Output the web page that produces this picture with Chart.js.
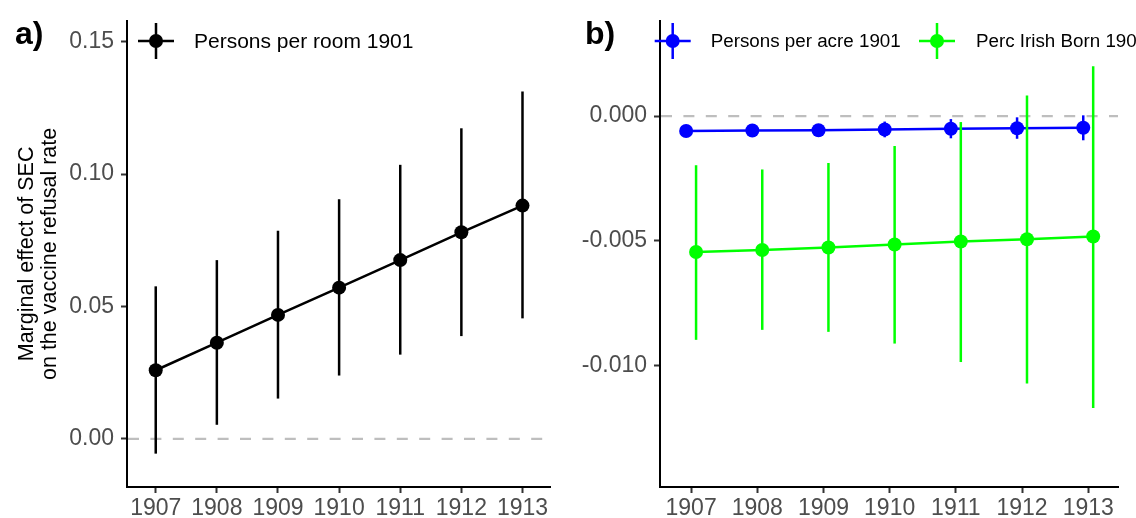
<!DOCTYPE html>
<html>
<head>
<meta charset="utf-8">
<script src="https://cdn.jsdelivr.net/npm/chart.js@4.4.1/dist/chart.umd.min.js"></script>
<style>
  html, body { margin: 0; padding: 0; background: #fff; }
  .wrap { position: relative; width: 1136px; height: 518px; overflow: hidden; }
  canvas { position: absolute; top: 0; }
  #panelA { left: 0; }
  #panelB { left: 570px; }
</style>
</head>
<body>
<div class="wrap">
  <canvas id="panelA" width="570" height="518"></canvas>
  <canvas id="panelB" width="566" height="518"></canvas>
</div>
<script>
// year of the marginal effect
const years = [1907, 1908, 1909, 1910, 1911, 1912, 1913];

// a) persons per room
const roomEffect = [0.0259, 0.0363, 0.0468, 0.0571, 0.0675, 0.0780, 0.0881];
const roomLow = [-0.0056, 0.0053, 0.0152, 0.0239, 0.0318, 0.0388, 0.0455];
const roomHigh = [0.0576, 0.0675, 0.0786, 0.0905, 0.1035, 0.1173, 0.1312];

// b) persons per acre
const acreEffect = [-0.00060, -0.00058, -0.00057, -0.00054, -0.00051, -0.00049, -0.00047];
const acreLow = [-0.00082, -0.00081, -0.00081, -0.00085, -0.00089, -0.00091, -0.00097];
const acreHigh = [-0.00038, -0.00035, -0.00033, -0.00022, -0.00012, -0.00005, 0.00003];

// b) percent irish born
const irishEffect = [-0.00545, -0.00537, -0.00527, -0.00515, -0.00503, -0.00494, -0.00483];
const irishLow = [-0.00897, -0.00857, -0.00865, -0.00912, -0.00986, -0.01072, -0.01170];
const irishHigh = [-0.00197, -0.00214, -0.00188, -0.00120, -0.00024, 0.00083, 0.00200];

const ticksA = [0, 0.05, 0.10, 0.15];
const ticksB = [-0.010, -0.005, 0];

const FONT = '"Liberation Sans", Arial, Helvetica, sans-serif';
const DODGE = 0.075;

const toPoints = (vals, shift = 0) => years.map((yr, i) => ({ x: yr + shift, y: vals[i] }));

const zeroLine = {
  id: 'zeroLine',
  beforeDatasetsDraw(chart) {
    const { ctx, chartArea, scales: { y } } = chart;
    const py = y.getPixelForValue(0);
    ctx.save();
    ctx.setLineDash([11, 11.4]);
    ctx.strokeStyle = '#BEBEBE';
    ctx.lineWidth = 2.2;
    ctx.beginPath();
    ctx.moveTo(chartArea.left + 1, py);
    ctx.lineTo(chartArea.right, py);
    ctx.stroke();
    ctx.restore();
  },
};

// vertical ranges drawn under each dataset's own line and points
const errorBars = {
  id: 'errorBars',
  beforeDatasetDraw(chart, args) {
    const ds = chart.data.datasets[args.index];
    if (!ds.errLow) return;
    const { ctx, scales: { x, y } } = chart;
    ctx.save();
    ctx.strokeStyle = ds.borderColor;
    ctx.lineWidth = 2.5;
    ds.data.forEach((p, i) => {
      const px = x.getPixelForValue(p.x);
      ctx.beginPath();
      ctx.moveTo(px, y.getPixelForValue(ds.errLow[i]));
      ctx.lineTo(px, y.getPixelForValue(ds.errHigh[i]));
      ctx.stroke();
    });
    ctx.restore();
  },
};

const keyLegend = {
  id: 'keyLegend',
  afterDraw(chart, args, opts) {
    const { ctx } = chart;
    ctx.save();
    ctx.fillStyle = '#000';
    ctx.font = 'bold 32px ' + FONT;
    ctx.textBaseline = 'alphabetic';
    ctx.fillText(opts.tag, 15, 44);

    opts.items.forEach((it) => {
      ctx.strokeStyle = it.color;
      ctx.fillStyle = it.color;
      ctx.lineWidth = 2.5;
      ctx.beginPath();
      ctx.moveTo(it.x - 18, 41);
      ctx.lineTo(it.x + 18, 41);
      ctx.moveTo(it.x, 23);
      ctx.lineTo(it.x, 59);
      ctx.stroke();
      ctx.beginPath();
      ctx.arc(it.x, 41, 7, 0, Math.PI * 2);
      ctx.fill();
      ctx.fillStyle = '#000';
      ctx.font = it.size + 'px ' + FONT;
      ctx.textBaseline = 'middle';
      ctx.fillText(it.label, it.textX, 42);
    });
    ctx.restore();
  },
};

function series(label, color, vals, low, high, shift, order) {
  return {
    label,
    data: toPoints(vals, shift),
    errLow: low,
    errHigh: high,
    borderColor: color,
    backgroundColor: color,
    borderWidth: 2.5,
    pointRadius: 7,
    pointHoverRadius: 7,
    pointBorderWidth: 0,
    tension: 0,
    order,
  };
}

function makeScales(yMin, yMax, yTicks, digits, yWidth, title) {
  return {
    x: {
      type: 'linear',
      min: 1906.53,
      max: 1913.45,
      afterBuildTicks: (s) => { s.ticks = years.map((v) => ({ value: v })); },
      afterFit: (s) => { s.height = 31; },
      grid: { drawOnChartArea: false, tickLength: 6, tickWidth: 2, tickColor: '#333' },
      border: { color: '#000', width: 2 },
      ticks: {
        color: '#4D4D4D', font: { family: FONT, size: 23 }, padding: 2,
        maxRotation: 0, autoSkip: false, callback: (v) => String(v),
      },
    },
    y: {
      type: 'linear',
      min: yMin,
      max: yMax,
      afterBuildTicks: (s) => { s.ticks = yTicks.map((v) => ({ value: v })); },
      afterFit: (s) => { s.width = yWidth; },
      grid: { drawOnChartArea: false, tickLength: 6, tickWidth: 2, tickColor: '#333' },
      border: { color: '#000', width: 2 },
      ticks: {
        color: '#4D4D4D', font: { family: FONT, size: 23 }, padding: 7,
        callback: (v) => v.toFixed(digits),
      },
      title: title ? {
        display: true,
        text: title,
        color: '#000',
        font: { family: FONT, size: 21.5, lineHeight: 1.05 },
        padding: { top: 16, bottom: 0 },
      } : { display: false },
    },
  };
}

function makePanel(id, datasets, scales, legendOpts, padRight) {
  return new Chart(document.getElementById(id), {
    type: 'line',
    data: { datasets },
    options: {
      responsive: false,
      animation: false,
      devicePixelRatio: 1,
      layout: { padding: { top: 18, right: padRight, bottom: 0, left: 0 } },
      plugins: {
        legend: { display: false },
        tooltip: { enabled: false },
        keyLegend: legendOpts,
      },
      scales,
    },
    plugins: [zeroLine, errorBars, keyLegend],
  });
}

makePanel(
  'panelA',
  [series('Persons per room 1901', '#000000', roomEffect, roomLow, roomHigh, 0, 0)],
  makeScales(-0.0182, 0.1579, ticksA, 2, 127, ['Marginal effect of SEC', 'on the vaccine refusal rate']),
  {
    tag: 'a)',
    items: [{ label: 'Persons per room 1901', color: '#000000', x: 156, textX: 194, size: 21 }],
  },
  20,
);

makePanel(
  'panelB',
  [
    series('Perc Irish Born 1901', '#00FF00', irishEffect, irishLow, irishHigh, DODGE, 0),
    series('Persons per acre 1901', '#0000FF', acreEffect, acreLow, acreHigh, -DODGE, 1),
  ],
  makeScales(-0.01487, 0.00382, ticksB, 3, 90, null),
  {
    tag: 'b)',
    items: [
      { label: 'Persons per acre 1901', color: '#0000FF', x: 102.7, textX: 140.7, size: 18.8 },
      { label: 'Perc Irish Born 1901', color: '#00FF00', x: 367, textX: 406, size: 18.8 },
    ],
  },
  18,
);
</script>
</body>
</html>
